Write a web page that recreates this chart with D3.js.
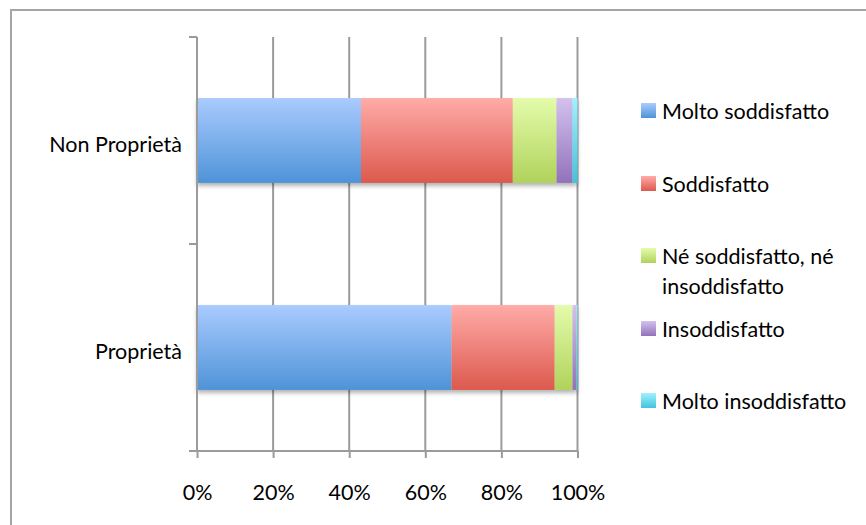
<!DOCTYPE html>
<html>
<head>
<meta charset="utf-8">
<script src="https://cdn.jsdelivr.net/npm/d3@7"></script>
<style>
  html, body { margin: 0; padding: 0; background: #fff; }
  svg { display: block; }
  text { font-family: Lato, "Open Sans", sans-serif; fill: #000; }
</style>
</head>
<body>
<svg id="chart" width="866" height="525"></svg>
<script>
// Satisfaction by housing tenure (share of respondents, %)
const categories = ["Non Proprietà", "Proprietà"];
const seriesNames = [
  "Molto soddisfatto",
  "Soddisfatto",
  "Né soddisfatto, né insoddisfatto",
  "Insoddisfatto",
  "Molto insoddisfatto"
];
const legendLines = [
  ["Molto soddisfatto"],
  ["Soddisfatto"],
  ["Né soddisfatto, né", "insoddisfatto"],
  ["Insoddisfatto"],
  ["Molto insoddisfatto"]
];
const molto = [43.1, 66.9];
const soddisfatto = [39.9, 27.1];
const neutro = [11.5, 4.7];
const insoddisfatto = [4.2, 1.0];
const moltoInsoddisfatto = [1.3, 0.3];
const xTicks = [0, 20, 40, 60, 80, 100];

// gradient stops (top, bottom) per series
const gradTop = ["#aacbfe", "#ffaba8", "#e4fcab", "#d3c1ee", "#a2f0ff"];
const gradBottom = ["#4e93d8", "#dc594d", "#b0d25b", "#9272bb", "#42c3dc"];

const seriesValues = [molto, soddisfatto, neutro, insoddisfatto, moltoInsoddisfatto];
const rows = categories.map((c, i) => {
  const r = { category: c };
  seriesNames.forEach((s, k) => { r[s] = seriesValues[k][i]; });
  return r;
});
const stacked = d3.stack().keys(seriesNames)(rows);

const fontSize = "21.5px";
const svg = d3.select("#chart");
const defs = svg.append("defs");
seriesNames.forEach((s, k) => {
  const g = defs.append("linearGradient")
    .attr("id", "grad" + k)
    .attr("x1", 0).attr("y1", 0).attr("x2", 0).attr("y2", 1);
  g.append("stop").attr("offset", "0%").attr("stop-color", gradTop[k]);
  g.append("stop").attr("offset", "100%").attr("stop-color", gradBottom[k]);
});
const shadow = defs.append("filter").attr("id", "shadow")
  .attr("x", "-5%").attr("y", "-10%").attr("width", "110%").attr("height", "130%");
shadow.append("feDropShadow")
  .attr("dx", 0).attr("dy", 3).attr("stdDeviation", 2)
  .attr("flood-color", "#000").attr("flood-opacity", 0.3);

// chart frame
svg.append("rect")
  .attr("x", 11).attr("y", 10).attr("width", 900).attr("height", 600)
  .attr("fill", "none").attr("stroke", "#a5a5a5").attr("stroke-width", 2);

const x = d3.scaleLinear().domain([0, 100]).range([197, 577.5]);
const y = d3.scaleBand().domain(categories).range([37, 451]).paddingInner(0.59).paddingOuter(0.295);
const yOuter = d3.scaleBand().domain(categories).range([37, 451]);

const grid = "#9b9b9b";
// vertical gridlines
svg.append("g").selectAll("line").data(xTicks.slice(1)).join("line")
  .attr("x1", d => x(d)).attr("x2", d => x(d))
  .attr("y1", 37).attr("y2", 451)
  .attr("stroke", grid).attr("stroke-width", 2);

// bars
const barsG = svg.append("g").attr("filter", "url(#shadow)");
stacked.forEach((layer, k) => {
  barsG.append("g").selectAll("rect").data(layer).join("rect")
    .attr("x", d => x(d[0]))
    .attr("width", d => x(d[1]) - x(d[0]))
    .attr("y", d => y(d.data.category))
    .attr("height", y.bandwidth())
    .attr("fill", "url(#grad" + k + ")");
});

// value axis (bottom)
const xAxis = svg.append("g").attr("transform", "translate(0,451)")
  .call(d3.axisBottom(x).tickValues(xTicks).tickSize(7).tickSizeOuter(0)
    .tickFormat(d => d + "%"));
xAxis.select(".domain").attr("stroke", grid).attr("stroke-width", 2)
  .attr("d", "M190,0H577.5");
xAxis.selectAll(".tick line").attr("stroke", grid).attr("stroke-width", 2);
xAxis.selectAll(".tick text")
  .attr("y", 49).attr("dy", null)
  .style("font-size", fontSize).attr("fill", "#000");

// category axis (left)
const yAxisG = svg.append("g").attr("transform", "translate(197,0)");
yAxisG.append("line").attr("x1", 0).attr("x2", 0).attr("y1", 37).attr("y2", 451)
  .attr("stroke", grid).attr("stroke-width", 2);
const boundaries = categories.map(c => yOuter(c)).concat([451]);
yAxisG.selectAll("line.tick").data(boundaries).join("line").attr("class", "tick")
  .attr("x1", -8).attr("x2", 0).attr("y1", d => d).attr("y2", d => d)
  .attr("stroke", grid).attr("stroke-width", 2);
yAxisG.selectAll("text").data(categories).join("text")
  .attr("x", -15)
  .attr("y", d => yOuter(d) + yOuter.bandwidth() / 2 + 11)
  .attr("text-anchor", "end")
  .style("font-size", fontSize)
  .text(d => d);

// legend
const legendY = [103, 176, 248, 321, 393];
const legend = svg.append("g");
seriesNames.forEach((s, k) => {
  const g = legend.append("g").attr("transform", `translate(641,${legendY[k]})`);
  g.append("rect").attr("width", 15).attr("height", 15).attr("fill", "url(#grad" + k + ")");
  legendLines[k].forEach((line, j) => {
    g.append("text").attr("x", 21).attr("y", 16 + j * 30)
      .style("font-size", fontSize).text(line);
  });
});
</script>
</body>
</html>
